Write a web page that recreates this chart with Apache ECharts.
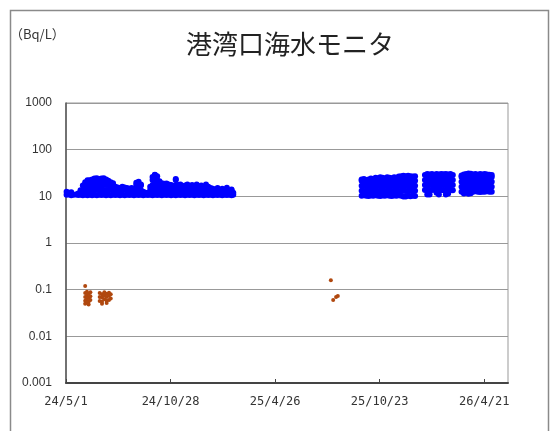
<html>
<head>
    <meta charset="utf-8" />
    <script src="https://cdn.jsdelivr.net/npm/echarts@6/dist/echarts.min.js"></script>
</head>
<body style="margin:0;background:#fff">
    <div id="main" style="width:550px;height:431px;"></div>
    <script>
        var startDate = '2024-05-01';
        var endDate = '2026-06-01';
        var tickDays = 180;
        var yTicks = [0.001, 0.01, 0.1, 1, 10, 100, 1000];

        // each row: date, then the values seen on that date (Bq/L)
        var blue2024 = [
            ['2024-05-02', 10.8, 12.5], ['2024-05-06', 11, 12], ['2024-05-10', 10.6, 12.3],
            ['2024-05-14', 10.8], ['2024-05-18', 11], ['2024-05-22', 10.7, 11.5],
            ['2024-05-26', 10.8, 13.5], ['2024-05-30', 10.6, 13.7, 17], ['2024-06-03', 10.8, 13.7, 17.5, 20],
            ['2024-06-07', 10.5, 13.5, 17.5, 22], ['2024-06-11', 10.8, 14, 17.5, 22], ['2024-06-15', 10.6, 13.7, 17.5, 22.3, 23],
            ['2024-06-19', 10.8, 13.7, 17, 22, 24], ['2024-06-23', 10.5, 13.8, 17.5, 22.5, 24.5], ['2024-06-27', 10.8, 13.7, 17.5, 22, 23.5],
            ['2024-07-01', 10.7, 14, 17.5, 22.3, 24], ['2024-07-05', 10.8, 13.5, 17.5, 22, 24.5], ['2024-07-09', 10.5, 13.7, 17.8, 22.3, 23],
            ['2024-07-13', 10.8, 13.7, 17.5, 21.5], ['2024-07-17', 10.6, 13.8, 17.5, 20], ['2024-07-21', 10.8, 13.5, 17, 19],
            ['2024-07-25', 10.7, 13.7, 16], ['2024-07-29', 10.8, 13.7, 15.5], ['2024-08-02', 10.5, 13.5, 15],
            ['2024-08-06', 10.8, 13.7, 16], ['2024-08-10', 10.6, 13.8, 15.5], ['2024-08-14', 10.8, 13.5, 15],
            ['2024-08-18', 10.7, 13.7, 14.5], ['2024-08-22', 10.8, 13.5, 15], ['2024-08-26', 10.6, 13, 14],
            ['2024-08-30', 10.8, 13.7, 17.5, 19.5], ['2024-09-03', 10.7, 13.7, 17.5, 20.5], ['2024-09-07', 10.8, 13.5, 17, 18],
            ['2024-09-11', 10.6, 12.5], ['2024-09-15', 10.8, 12], ['2024-09-19', 10.7, 11.8],
            ['2024-09-23', 10.8, 13.7, 16], ['2024-09-27', 10.6, 13.7, 17.5, 22.3, 26], ['2024-10-01', 10.8, 13.7, 17.5, 22.3, 28.5, 29],
            ['2024-10-05', 10.7, 13.8, 17.5, 22, 27], ['2024-10-09', 10.8, 13.7, 17.5, 21], ['2024-10-13', 10.6, 13.5, 17.5, 19],
            ['2024-10-17', 10.8, 13.7, 17, 18.5], ['2024-10-21', 10.7, 13.7, 17.5, 18.8], ['2024-10-25', 10.8, 13.5, 16.5, 18],
            ['2024-10-29', 10.6, 13.7, 17, 17.5], ['2024-11-02', 10.8, 13.7, 16.5], ['2024-11-06', 10.6, 13.7, 17.5, 22.3, 23.4],
            ['2024-11-10', 10.8, 13.5, 16.5, 17.5], ['2024-11-14', 10.7, 13.7, 17, 18], ['2024-11-18', 10.8, 13.7, 15.5],
            ['2024-11-22', 10.6, 13.5, 16.5, 17], ['2024-11-26', 10.8, 13.7, 17, 18], ['2024-11-30', 10.7, 13.7, 15],
            ['2024-12-04', 10.8, 13.5, 16.5, 17.5], ['2024-12-08', 10.6, 13.7, 16], ['2024-12-12', 10.8, 13.7, 17, 18],
            ['2024-12-16', 10.7, 13.5, 15.5], ['2024-12-20', 10.8, 13.7, 16.5, 17], ['2024-12-24', 10.6, 13.7, 14.5],
            ['2024-12-28', 10.8, 13.5, 16.5, 18], ['2025-01-01', 10.7, 13.7, 16], ['2025-01-05', 10.8, 13.7, 15],
            ['2025-01-09', 10.6, 13.5, 14.5], ['2025-01-13', 10.8, 12.5], ['2025-01-17', 10.7, 13.7, 15],
            ['2025-01-21', 10.8, 12], ['2025-01-25', 10.6, 13.7, 14.5], ['2025-01-29', 10.8, 12.5],
            ['2025-02-02', 10.7, 13.7, 15.3], ['2025-02-06', 10.8, 12.5], ['2025-02-10', 10.6, 13.5, 14],
            ['2025-02-13', 10.8, 12]
        ];

        var blue2025 = [
            ['2025-09-22', 10.3, 13.1, 16.8, 21.5, 23], ['2025-09-26', 10.5, 13, 16.8, 21, 23.5], ['2025-09-30', 10.3, 13.1, 17, 21.5, 22.5],
            ['2025-10-04', 10.2, 13.1, 16.8, 21.5, 23], ['2025-10-08', 10.4, 13, 16.5, 21, 24], ['2025-10-12', 10.3, 13.1, 16.8, 21.5, 23.5],
            ['2025-10-16', 10.5, 13.1, 17, 21.5, 25], ['2025-10-20', 10.3, 13, 16.8, 21.5, 24.5], ['2025-10-24', 10.2, 13.1, 16.8, 21, 25.5],
            ['2025-10-28', 10.4, 13.1, 17, 21.5, 25], ['2025-11-01', 10.3, 13, 16.8, 21.5, 24], ['2025-11-05', 10.5, 13.1, 16.8, 21.5, 25.5],
            ['2025-11-09', 10.3, 13.1, 17, 21, 25], ['2025-11-13', 10.2, 13, 16.8, 21.5, 24.5], ['2025-11-17', 10.4, 13.1, 16.8, 21.5, 25.5],
            ['2025-11-21', 10.3, 13.1, 17, 21.5, 25], ['2025-11-25', 10.5, 13, 16.8, 21.5, 26.5], ['2025-11-29', 10.3, 13.1, 16.8, 21.5, 27],
            ['2025-12-03', 9.9, 13.1, 17, 21.5, 27.5], ['2025-12-07', 9.9, 13, 16.8, 22, 27], ['2025-12-11', 10.3, 13.1, 16.8, 21.5, 27.5],
            ['2025-12-15', 10.1, 13.1, 17, 21.5, 27], ['2025-12-19', 10.3, 13, 16.8, 21.5, 26.5], ['2025-12-23', 10.2, 13.1, 16.8, 21.5, 27],
            ['2026-01-09', 13.7, 17.5, 22.3, 28.5], ['2026-01-13', 11, 13.7, 17.5, 22.3, 28.5, 30], ['2026-01-17', 10.9, 13.5, 17.5, 22.3, 28, 29.5],
            ['2026-01-21', 13.7, 17.5, 22, 28.5, 30], ['2026-01-25', 13.9, 17.5, 22.3, 28.5, 29], ['2026-01-29', 12, 13.7, 17.5, 22.3, 28.5, 30],
            ['2026-02-02', 11, 13.7, 17.5, 22.3, 28.5, 29.5], ['2026-02-06', 13.7, 17.5, 22.3, 28.5, 30], ['2026-02-10', 13.5, 17.5, 22, 28.5, 29.6],
            ['2026-02-14', 10.9, 13.7, 17.5, 22.3, 28.5, 30], ['2026-02-18', 11.5, 13.7, 17.5, 22.3, 28, 29.5], ['2026-02-22', 13.7, 17.5, 22.3, 28.5, 30],
            ['2026-02-26', 13.5, 17.5, 22.3, 28.5],
            ['2026-03-13', 12.6, 16, 20.5, 26, 28], ['2026-03-17', 11.5, 12.6, 16, 20.5, 26, 29.5], ['2026-03-21', 12.6, 16, 20.5, 26, 30],
            ['2026-03-25', 11.4, 12.6, 16, 20.5, 26, 31], ['2026-03-29', 11.6, 12.6, 16, 20.5, 26, 30.5], ['2026-04-02', 12.6, 16.2, 20.5, 26, 29.5],
            ['2026-04-06', 12.8, 16, 20.5, 26, 30], ['2026-04-10', 12.6, 16, 20.5, 26, 29], ['2026-04-14', 12.4, 16, 20.5, 26, 30],
            ['2026-04-18', 12.6, 16, 20.8, 26, 29.5], ['2026-04-22', 12.6, 16, 20.5, 26, 30], ['2026-04-26', 12.8, 16, 20.5, 26, 29.5],
            ['2026-04-30', 12.6, 16, 20.5, 26, 29], ['2026-05-04', 12.6, 16, 20.5, 26, 28.5]
        ];

        var brown = [
            ['2024-06-03', 0.12, 0.085, 0.07, 0.058, 0.05], ['2024-06-06', 0.09, 0.075, 0.062, 0.052],
            ['2024-06-09', 0.082, 0.068, 0.055, 0.048], ['2024-06-12', 0.088, 0.072, 0.06],
            ['2024-06-28', 0.085, 0.07, 0.057], ['2024-07-02', 0.08, 0.068, 0.055, 0.05],
            ['2024-07-06', 0.088, 0.075, 0.062], ['2024-07-10', 0.082, 0.07, 0.058, 0.052],
            ['2024-07-14', 0.086, 0.074, 0.06], ['2024-07-17', 0.08, 0.065],
            ['2025-07-31', 0.16], ['2025-08-04', 0.06], ['2025-08-09', 0.07], ['2025-08-12', 0.073]
        ];

        var t0 = Date.parse(startDate);
        function dayOf(s) {
            return Math.round((Date.parse(s) - t0) / 86400000);
        }
        function toPoints(rows) {
            var out = [];
            rows.forEach(function (r) {
                var d = dayOf(r[0]);
                for (var i = 1; i < r.length; i++) out.push([d, r[i]]);
            });
            return out;
        }
        function dayLabel(v) {
            var t = new Date(t0 + v * 86400000);
            return (t.getUTCFullYear() % 100) + '/' + (t.getUTCMonth() + 1) + '/' + t.getUTCDate();
        }

        var myChart = echarts.init(document.getElementById('main'));
        var option = {
            animation: false,
            backgroundColor: '#fff',
            title: [
                {
                    text: '港湾口海水モニタ',
                    left: 186, top: 31, padding: 0,
                    textStyle: { fontFamily: 'Noto Sans CJK JP', fontSize: 26, fontWeight: 'normal', color: '#222' }
                },
                {
                    text: '（Bq/L）',
                    left: 10, top: 28, padding: 0,
                    textStyle: { fontFamily: 'Noto Sans CJK JP', fontSize: 13, fontWeight: 'normal', color: '#333' }
                }
            ],
            graphic: [{
                type: 'rect',
                shape: { x: 10.5, y: 10.5, width: 538, height: 500 },
                style: { fill: 'none', stroke: '#8a8a8a', lineWidth: 1.5 },
                silent: true
            }],
            grid: {
                left: 66, top: 103, width: 442, height: 280,
                show: true, borderColor: '#999', borderWidth: 1
            },
            xAxis: {
                type: 'value',
                min: 0,
                max: dayOf(endDate),
                interval: tickDays,
                axisLine: { lineStyle: { color: '#444', width: 2 } },
                axisTick: { show: true, inside: true, length: 4, lineStyle: { color: '#444' } },
                splitLine: { show: false },
                axisLabel: {
                    formatter: dayLabel,
                    showMaxLabel: false,
                    margin: 13,
                    fontFamily: 'DejaVu Sans Mono',
                    fontSize: 12,
                    color: '#333'
                }
            },
            yAxis: {
                type: 'log',
                logBase: 10,
                min: yTicks[0],
                max: yTicks[yTicks.length - 1],
                splitNumber: yTicks.length - 1,
                axisLine: { show: true, lineStyle: { color: '#555', width: 1.5 } },
                axisTick: { show: false },
                splitLine: { lineStyle: { color: '#999', width: 1 } },
                axisLabel: {
                    formatter: function (v) { return String(parseFloat(Number(v).toPrecision(3))); },
                    margin: 14,
                    fontFamily: 'Liberation Sans',
                    fontSize: 12,
                    color: '#333'
                }
            },
            series: [
                {
                    type: 'scatter',
                    data: toPoints(blue2024).concat(toPoints(blue2025)),
                    symbolSize: 6,
                    itemStyle: { color: '#0000ff', opacity: 1 }
                },
                {
                    type: 'scatter',
                    data: toPoints(brown),
                    symbolSize: 4,
                    itemStyle: { color: '#b0480f', opacity: 1 }
                }
            ]
        };
        myChart.setOption(option);
    </script>
</body>
</html>
